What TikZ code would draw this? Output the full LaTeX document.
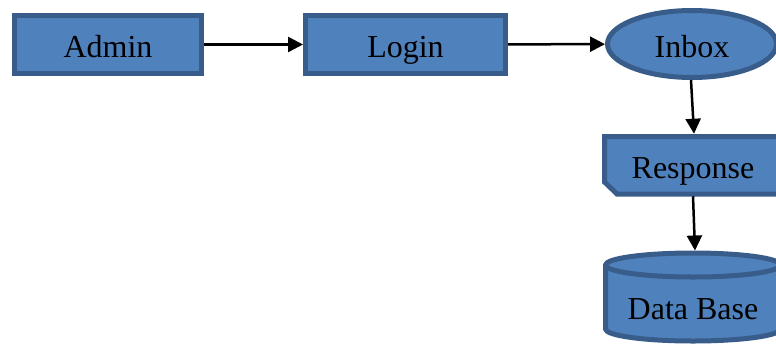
\documentclass[tikz,border=0pt]{standalone}
\usepackage{fontspec}
\setmainfont{Liberation Serif}
\usetikzlibrary{shapes.geometric,arrows.meta}
\definecolor{boxfill}{HTML}{4F81BD}
\definecolor{boxline}{HTML}{385D8A}
\tikzset{
  txt/.style={font=\fontsize{32}{38}\selectfont,text height=26pt,text depth=0pt},
  shapebox/.style={fill=boxfill,draw=boxline,line width=5pt,txt,inner sep=0pt},
  procbox/.style={shapebox,rectangle},
  flow/.style={line width=2.5pt,-{Triangle[length=15pt,width=15pt]}},
  ghost/.style={draw=none,fill=none,inner sep=0pt,outer sep=2.5pt,txt}
}
\begin{document}
\begin{tikzpicture}[x=1pt,y=-1pt]
\useasboundingbox (0,0) rectangle (776,346);
\clip (0,0) rectangle (776,346);
% nodes
\node[procbox,minimum width=187pt,minimum height=58pt] (admin) at (108,44.5) {Admin};
\node[procbox,minimum width=200pt,minimum height=58pt] (login) at (405.5,44.5) {Login};
\node[shapebox,ellipse,minimum width=169pt,minimum height=67pt] (inbox) at (692,44) {Inbox};
% response (card shape)
\filldraw[fill=boxfill,draw=boxline,line width=5pt]
  (604.5,136.5) -- (790,136.5) -- (790,194) -- (617,194) -- (604.5,182) -- cycle;
\node[ghost,minimum width=177pt,minimum height=57.5pt] (resp) at (693,165) {Response};
% database (cylinder)
\filldraw[fill=boxfill,draw=boxline,line width=5pt]
  (605.5,265) -- (605.5,329) arc (180:0:87.5 and 12) -- (780.5,265) arc (0:-180:87.5 and 12) -- cycle;
\draw[boxline,line width=5pt] (605.5,265) arc (180:0:87.5 and 12);
\node[ghost,minimum width=175pt,minimum height=88pt] (db) at (693,297) {};
\node[ghost] (dbtext) at (693,306) {Data Base};
% connectors
\draw[flow] (admin) -- (login);
\draw[flow] (login) -- (inbox);
\draw[flow] ([xshift=-1pt]inbox.south) -- ([xshift=1pt]resp.north);
\draw[flow] (resp.south) -- ([xshift=2pt]db.north);
\end{tikzpicture}
\end{document}
